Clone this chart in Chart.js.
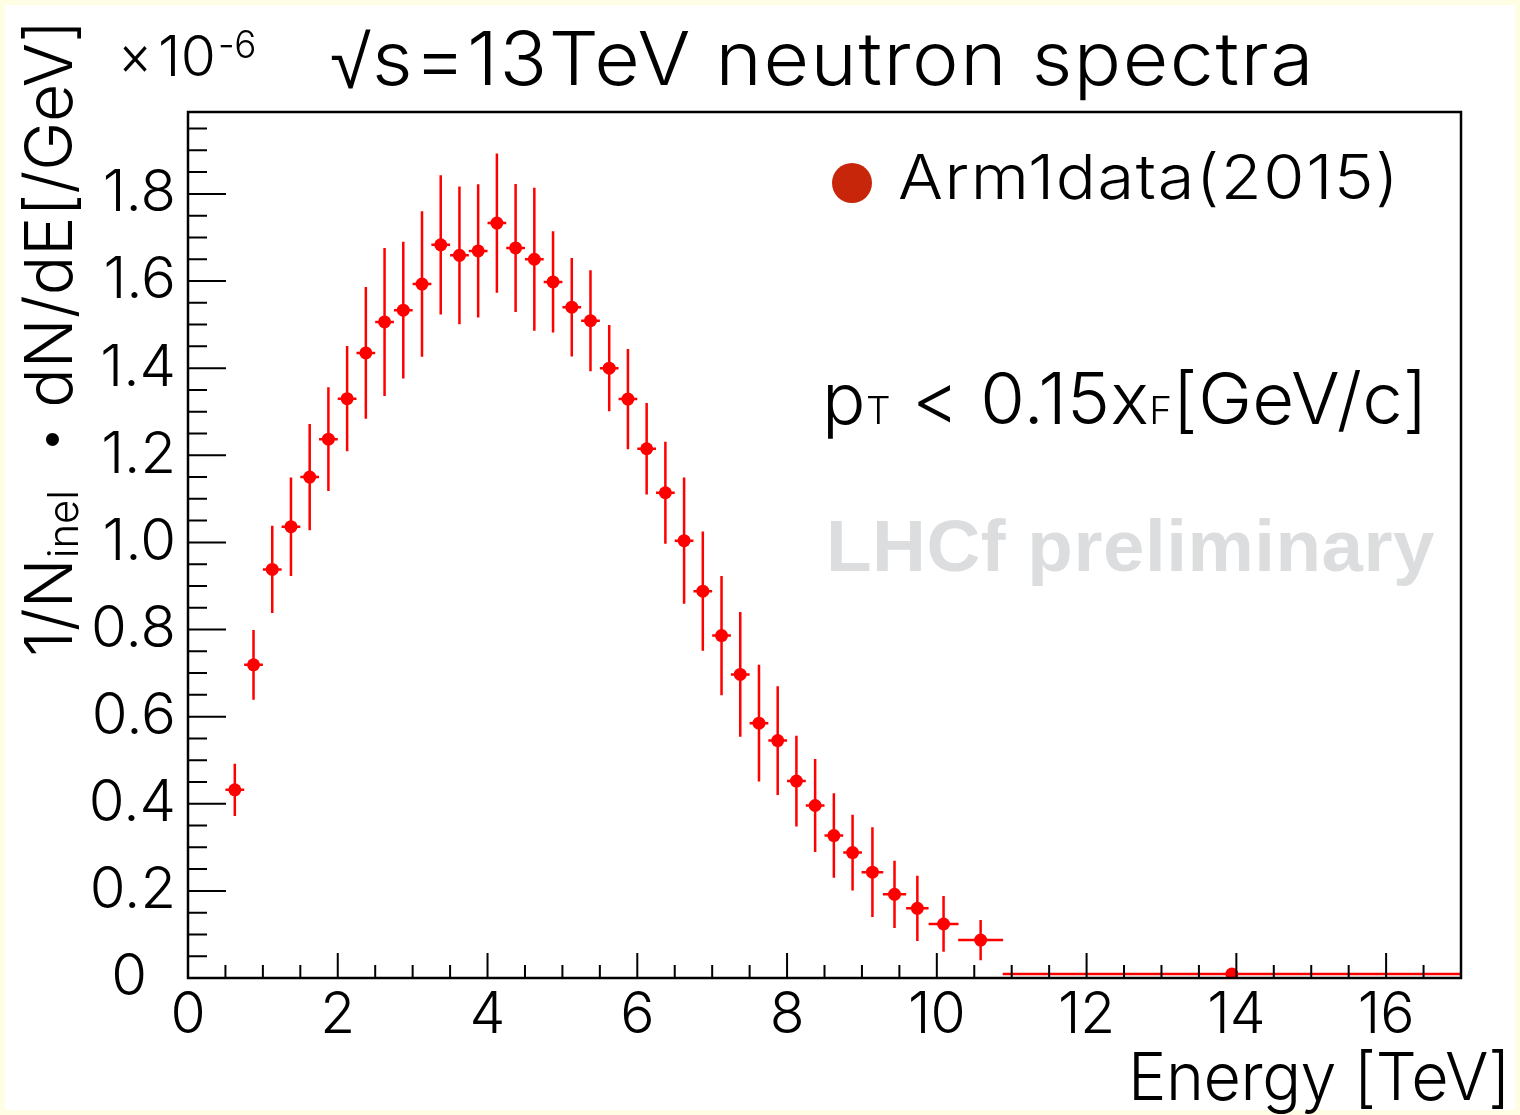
<!DOCTYPE html>
<html>
<head>
<meta charset="utf-8">
<script src="https://cdn.jsdelivr.net/npm/chart.js@4.4.1/dist/chart.umd.min.js"></script>
<style>
    html, body { margin: 0; padding: 0; background: #fffde3; }
    canvas { display: block; }
</style>
</head>
<body>
<canvas id="spectrum" width="1520" height="1115"></canvas>
<script>
(function () {
    "use strict";

    // bin centres [TeV]
    const energy = [
        0.625, 0.875, 1.125, 1.375, 1.625, 1.875, 2.125, 2.375, 2.625, 2.875,
        3.125, 3.375, 3.625, 3.875, 4.125, 4.375, 4.625, 4.875, 5.125, 5.375,
        5.625, 5.875, 6.125, 6.375, 6.625, 6.875, 7.125, 7.375, 7.625, 7.875,
        8.125, 8.375, 8.625, 8.875, 9.14, 9.435, 9.74, 10.09, 10.585, 13.94,
    ];
    // half bin width [TeV]
    const binHalfWidth = [
        0.125, 0.125, 0.125, 0.125, 0.125, 0.125, 0.125, 0.125, 0.125, 0.125,
        0.125, 0.125, 0.125, 0.125, 0.125, 0.125, 0.125, 0.125, 0.125, 0.125,
        0.125, 0.125, 0.125, 0.125, 0.125, 0.125, 0.125, 0.125, 0.125, 0.125,
        0.125, 0.125, 0.125, 0.125, 0.145, 0.155, 0.15, 0.2, 0.3, 3.06,
    ];
    // 1/N_inel dN/dE  [x 1e-6 /GeV]
    const dNdE = [
        0.432, 0.719, 0.938, 1.036, 1.150, 1.237, 1.330, 1.435, 1.506, 1.533,
        1.593, 1.683, 1.659, 1.669, 1.733, 1.676, 1.650, 1.598, 1.540, 1.509,
        1.400, 1.329, 1.215, 1.114, 1.004, 0.888, 0.786, 0.697, 0.585, 0.545,
        0.452, 0.396, 0.327, 0.288, 0.243, 0.192, 0.160, 0.124, 0.087, 0.009,
    ];
    const dNdEErr = [
        0.060, 0.080, 0.100, 0.113, 0.122, 0.119, 0.121, 0.151, 0.170, 0.157,
        0.167, 0.160, 0.158, 0.153, 0.160, 0.147, 0.164, 0.116, 0.113, 0.116,
        0.099, 0.115, 0.105, 0.117, 0.145, 0.137, 0.137, 0.143, 0.134, 0.125,
        0.104, 0.107, 0.097, 0.087, 0.103, 0.077, 0.075, 0.064, 0.046, 0.002,
    ];

    const xTickValues = [0, 2, 4, 6, 8, 10, 12, 14, 16];
    const xTickLabels = ["0", "2", "4", "6", "8", "10", "12", "14", "16"];
    const yTickValues = [0, 0.2, 0.4, 0.6, 0.8, 1.0, 1.2, 1.4, 1.6, 1.8];
    const yTickLabels = ["0\u2002", "0.2", "0.4", "0.6", "0.8", "1.0", "1.2", "1.4", "1.6", "1.8"];

    const FONT = 'Inter, "Noto Sans", sans-serif';
    const WEIGHT = "300";
    const RED = "#ff0000";

    // draw a row of text pieces (sub/superscripts) fitted to a given width,
    // partly by widening the glyphs, partly by letter spacing
    function drawRuns(ctx, runs, x, y, width) {
        const fontOf = (r) => (r.weight || WEIGHT) + " " + r.size + "px " + (r.family || FONT);
        let natural = 0;
        let chars = 0;
        const widths = runs.map((r) => {
            ctx.font = fontOf(r);
            const w = ctx.measureText(r.t).width;
            natural += w;
            chars += r.t.length;
            return w;
        });
        let sx = 1;
        let ls = 0;
        if (width) {
            sx = Math.min(1.15, Math.max(0.9, 1 + (width / natural - 1) * 0.6));
            ls = (width / sx - natural) / chars;
        }
        ctx.save();
        ctx.translate(x, y);
        ctx.scale(sx, 1);
        let cx = 0;
        runs.forEach((r, i) => {
            ctx.font = fontOf(r);
            ctx.letterSpacing = ls + "px";
            ctx.fillText(r.t, cx, r.dy || 0);
            cx += widths[i] + ls * r.t.length;
        });
        ctx.letterSpacing = "0px";
        ctx.restore();
    }

    const decor = {
        id: "decor",
        beforeDraw(chart) {
            const ctx = chart.ctx;
            ctx.save();
            ctx.fillStyle = "#fffde3";
            ctx.fillRect(0, 0, chart.width, chart.height);
            ctx.fillStyle = "#ffffff";
            ctx.fillRect(5, 5, chart.width - 10, chart.height - 10);
            ctx.restore();
        },
        beforeDatasetsDraw(chart) {
            const ctx = chart.ctx;
            const xs = chart.scales.x;
            const ys = chart.scales.y;
            ctx.save();
            ctx.strokeStyle = RED;
            ctx.lineWidth = 2.5;
            energy.forEach((e, i) => {
                const px = xs.getPixelForValue(e);
                const py = ys.getPixelForValue(dNdE[i]);
                ctx.beginPath();
                ctx.moveTo(xs.getPixelForValue(e - binHalfWidth[i]), py);
                ctx.lineTo(xs.getPixelForValue(e + binHalfWidth[i]), py);
                ctx.moveTo(px, ys.getPixelForValue(dNdE[i] + dNdEErr[i]));
                ctx.lineTo(px, ys.getPixelForValue(Math.max(0, dNdE[i] - dNdEErr[i])));
                ctx.stroke();
            });
            ctx.restore();
        },
        afterDraw(chart) {
            const ctx = chart.ctx;
            const xs = chart.scales.x;
            const ys = chart.scales.y;
            const a = chart.chartArea;
            ctx.save();

            // frame
            ctx.strokeStyle = "#000000";
            ctx.lineWidth = 2.5;
            ctx.strokeRect(a.left, a.top, a.right - a.left, a.bottom - a.top);

            // ROOT style inward ticks
            ctx.lineWidth = 2;
            ctx.beginPath();
            for (let i = 1; i < 34; i++) {
                const px = xs.getPixelForValue(i * 0.5);
                const len = i % 4 === 0 ? 25 : 13;
                ctx.moveTo(px, a.bottom);
                ctx.lineTo(px, a.bottom - len);
            }
            for (let i = 1; i < 40; i++) {
                const py = ys.getPixelForValue(i * 0.05);
                const len = i % 4 === 0 ? 38 : 19;
                ctx.moveTo(a.left, py);
                ctx.lineTo(a.left + len, py);
            }
            ctx.stroke();

            ctx.fillStyle = "#000000";
            ctx.textBaseline = "alphabetic";
            ctx.textAlign = "left";

            // exponent
            drawRuns(ctx, [{ t: "\u00d7", size: 58 }], 118, 75, 28);
            drawRuns(ctx, [{ t: "10", size: 56 }], 158, 76, 58);
            drawRuns(ctx, [{ t: "-6", size: 38 }], 218, 58, 38);

            // title
            drawRuns(ctx, [{ t: "\u221a", size: 74, family: '"Liberation Sans", sans-serif', weight: "normal" }], 330, 88);
            drawRuns(ctx, [{ t: "s=13TeV neutron spectra", size: 74 }], 372, 85, 943);

            // legend
            ctx.fillStyle = "#c8260a";
            ctx.beginPath();
            ctx.arc(852, 183, 20, 0, Math.PI * 2);
            ctx.fill();
            ctx.fillStyle = "#000000";
            drawRuns(ctx, [{ t: "Arm1data(2015)", size: 62 }], 898, 199, 502);

            // cut
            drawRuns(ctx, [
                { t: "p", size: 71 },
                { t: "T", size: 38 },
                { t: " < 0.15x", size: 71 },
                { t: "F", size: 38 },
                { t: "[GeV/c]", size: 71 },
            ], 822, 424, 606);

            // watermark
            ctx.fillStyle = "#dcdddf";
            drawRuns(ctx, [{ t: "LHCf preliminary", size: 73, weight: "bold", family: '"Liberation Sans", Arial, sans-serif' }], 826, 571, 609);

            // axis titles
            ctx.fillStyle = "#000000";
            drawRuns(ctx, [{ t: "Energy [TeV]", size: 66 }], 1128, 1100, 382);

            ctx.translate(72, 657);
            ctx.rotate(-Math.PI / 2);
            drawRuns(ctx, [
                { t: "1/N", size: 66 },
                { t: "inel", size: 42, dy: 6 },
                { t: "  ", size: 66 },
                { t: "\u2022", size: 48, dy: -6 },
                { t: " dN/dE[/GeV]", size: 66 },
            ], 0, 0, 637);

            ctx.restore();
        },
    };

    new Chart(document.getElementById("spectrum"), {
        type: "scatter",
        data: {
            datasets: [
                {
                    label: "Arm1data(2015)",
                    data: energy.map((e, i) => ({ x: e, y: dNdE[i] })),
                    pointRadius: 6.5,
                    pointBackgroundColor: RED,
                    pointBorderWidth: 0,
                    showLine: false,
                },
            ],
        },
        options: {
            responsive: false,
            animation: false,
            events: [],
            layout: {
                padding: { left: 0, top: 112, right: 59, bottom: 0 },
            },
            plugins: {
                legend: { display: false },
                title: { display: false },
                tooltip: { enabled: false },
            },
            scales: {
                x: {
                    type: "linear",
                    min: 0,
                    max: 17,
                    afterFit: (s) => { s.height = 137; },
                    afterBuildTicks: (s) => {
                        s.ticks = xTickValues.map((v) => ({ value: v }));
                    },
                    ticks: {
                        padding: 4,
                        autoSkip: false,
                        maxRotation: 0,
                        color: "#000000",
                        font: { family: FONT, size: 57, weight: WEIGHT },
                        callback: (v, i) => xTickLabels[i],
                    },
                    grid: { display: false, drawTicks: false },
                    border: { display: false },
                },
                y: {
                    type: "linear",
                    min: 0,
                    max: 1.988,
                    afterFit: (s) => { s.width = 188; },
                    afterBuildTicks: (s) => {
                        s.ticks = yTickValues.map((v) => ({ value: v }));
                    },
                    ticks: {
                        padding: 12,
                        autoSkip: false,
                        color: "#000000",
                        font: { family: FONT, size: 58, weight: WEIGHT },
                        callback: (v, i) => yTickLabels[i],
                    },
                    grid: { display: false, drawTicks: false },
                    border: { display: false },
                },
            },
        },
        plugins: [decor],
    });
})();
</script>
</body>
</html>
